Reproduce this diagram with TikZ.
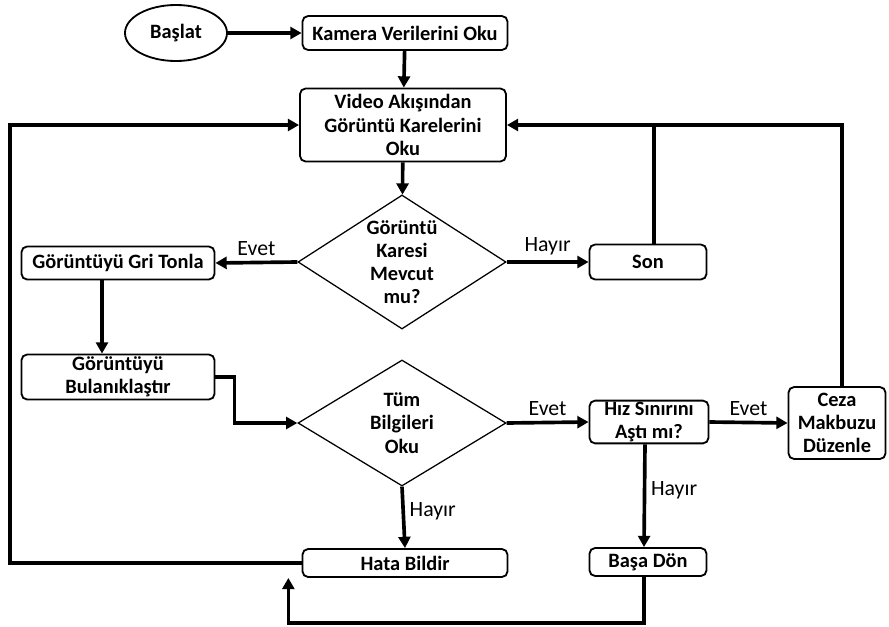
\documentclass[tikz,border=0pt]{standalone}
\usepackage{fontspec}
\setmainfont{Carlito}
\usetikzlibrary{arrows.meta, positioning, shapes.geometric, calc}

\begin{document}
\begin{tikzpicture}[
  x=0.025cm, y=-0.025cm,
  stepbox/.style={draw, line width=1.3pt, rounded corners=4pt, fill=white, align=center, inner sep=1pt,
    font=\fontsize{14.5}{16.5}\selectfont\bfseries},
  startnode/.style={draw, ellipse, line width=1.3pt, minimum width=2.55cm, minimum height=1.4cm,
    font=\fontsize{14.5}{16.5}\selectfont\bfseries},
  decision/.style={draw, diamond, aspect=1.55, line width=0.9pt, inner sep=0pt, align=center,
    font=\fontsize{14.5}{16.5}\selectfont\bfseries},
  lbl/.style={font=\fontsize{15.5}{17}\selectfont},
  arrow/.style={-{Triangle[length=8pt,width=8.5pt]}, line width=2.6pt},
  plain/.style={line width=2.6pt}
]
\useasboundingbox[fill=white] (0,0) rectangle (889,626);

% top row
\node[startnode] (baslat) at (176,33) {Başlat};
\node[stepbox, minimum width=5.125cm, minimum height=0.85cm] (kamera) at (405,33) {Kamera Verilerini Oku};
\node[stepbox, minimum width=5.15cm, minimum height=1.825cm] (video) at (403,125) {Video Akışından\\Görüntü Karelerini\\Oku};

% first decision
\node[decision, minimum width=5.2cm, minimum height=3.35cm] (kare) at (402,262) {Görüntü\\Karesi\\Mevcut\\mu?};
\node[stepbox, minimum width=4.825cm, minimum height=0.825cm] (gri) at (118,263) {Görüntüyü Gri Tonla};
\node[stepbox, minimum width=2.925cm, minimum height=0.875cm] (son) at (648,262) {Son};
\node[stepbox, minimum width=4.825cm, minimum height=1.125cm] (bulanik) at (118,377) {Görüntüyü\\Bulanıklaştır};

% second decision
\node[decision, minimum width=5.2cm, minimum height=3.15cm] (bilgi) at (402,423) {Tüm\\Bilgileri\\Oku};
\node[stepbox, minimum width=2.975cm, minimum height=1.025cm] (hiz) at (649,422) {Hız Sınırını\\Aştı mı?};
\node[stepbox, minimum width=2.425cm, minimum height=1.8cm] (ceza) at (837,423) {Ceza\\Makbuzu\\Düzenle};
\node[stepbox, minimum width=5.125cm, minimum height=0.7cm] (hata) at (405,563) {Hata Bildir};
\node[stepbox, minimum width=2.925cm, minimum height=0.7cm] (basa) at (648,562) {Başa Dön};

\coordinate (leftrail) at (10,0);

\draw[arrow] (baslat) -- (kamera);
\draw[arrow] (kamera) -- (video);
\draw[arrow] (video) -- (kare);
\draw[arrow] (kare.west) -- node[above, lbl] {Evet} (gri.east);
\draw[arrow] (kare.east) -- node[above, lbl] {Hayır} (son.west);
\draw[arrow] ([xshift=-0.4cm]gri.south) -- ([xshift=-0.4cm]bulanik.north);
\draw[arrow] (bulanik.east) -- ++(19,0) |- (bilgi.west);
\draw[arrow] (bilgi.east) -- node[above, lbl] {Evet} (hiz.west);
\draw[arrow] (hiz.east) -- node[above, lbl] {Evet} (ceza.west);
\draw[arrow] (bilgi.south) -- node[right, lbl, pos=0.4] {Hayır} (hata.north);
\draw[arrow] ([xshift=-0.1cm]hiz.south) -- node[right, lbl, pos=0.45] {Hayır} ([xshift=-0.1cm]basa.north);

% feedback loops
\draw[arrow] ([xshift=-0.1cm]basa.south) -- ++(0,46) -| ([xshift=-0.33cm]hata.south west);
\draw[arrow] (hata.west) -- (hata.west -| leftrail) |- (video.west);
\draw[arrow] ([xshift=0.12cm]ceza.north) |- (video.east);
\draw[plain] ([xshift=0.15cm]son.north) -- ([xshift=0.15cm]son.north |- video.east);
\end{tikzpicture}
\end{document}
